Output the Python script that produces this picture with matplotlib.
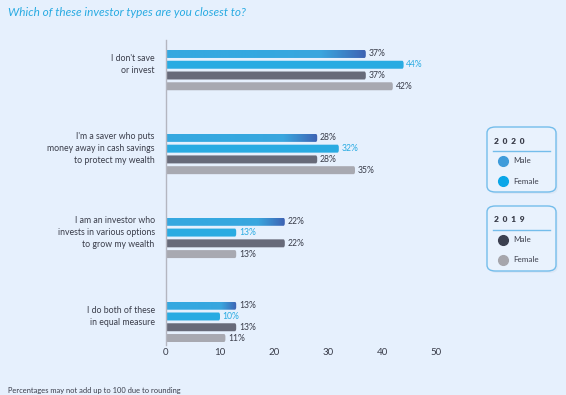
import matplotlib
matplotlib.use("Agg")
import matplotlib.pyplot as plt
import numpy as np
from matplotlib.patches import FancyBboxPatch
from matplotlib.colors import LinearSegmentedColormap

categories = ["I don't save\nor invest",
              "I'm a saver who puts\nmoney away in cash savings\nto protect my wealth",
              "I am an investor who\ninvests in various options\nto grow my wealth",
              "I do both of these\nin equal measure"]
male_2020 = [37, 28, 22, 13]
female_2020 = [44, 32, 13, 10]
male_2019 = [37, 28, 22, 13]
female_2019 = [42, 35, 13, 11]
xticks = [0, 10, 20, 30, 40, 50]

BG = "#E6F0FD"
C_F20 = "#29ABE2"
C_M19 = "#676A79"
C_F19 = "#A8A9B1"
TXT = "#3A3D4A"

plt.rcParams['font.family'] = ['Lato', 'DejaVu Sans']

fig = plt.figure(figsize=(5.66, 3.95), dpi=100, facecolor=BG)
ax = fig.add_axes([166/566, 1-345/395, 270/566, 305/395], facecolor=BG)

gap = 7.8
offsets = [-1.5, -0.5, 0.5, 1.5]
h = 0.74
grad = LinearSegmentedColormap.from_list("g", ["#35A8E0", "#3AA6DE", "#3E62B3"])

series = [(male_2020, None, TXT), (female_2020, C_F20, C_F20),
          (male_2019, C_M19, TXT), (female_2019, C_F19, TXT)]

for i in range(len(categories)):
    for j, (vals, col, tcol) in enumerate(series):
        v = vals[i]
        y = i*gap + offsets[j]
        patch = FancyBboxPatch((0, y - h/2), v, h,
                               boxstyle="round,pad=0,rounding_size=0.25",
                               facecolor=col if col else "none", edgecolor="none")
        ax.add_patch(patch)
        if col is None:
            g = np.linspace(0, 1, 256).reshape(1, -1)
            g = np.clip((g - 0.45) / 0.55, 0, 1) ** 1.3
            im = ax.imshow(g, cmap=grad, aspect='auto',
                           extent=(0, v, y + h/2, y - h/2), interpolation='bilinear', zorder=2)
            im.set_clip_path(patch)
        ax.text(v + 0.5, y, f"{v}%", va='center', ha='left', fontsize=6.2, color=tcol)
    ax.text(-2.1, i*gap - 0.5, categories[i], ha='right', va='center', fontsize=6.3,
            color=TXT, linespacing=1.4)

ax.set_xlim(0, 50)
ax.set_ylim(3*gap + 2.15, -2.8)
ax.set_xticks(xticks)
ax.set_xticklabels([str(t) for t in xticks], fontsize=7, color=TXT)
ax.tick_params(axis='x', length=0, pad=2)
ax.set_yticks([])
for s in ['top', 'right', 'bottom']:
    ax.spines[s].set_visible(False)
ax.spines['left'].set_color("#B4B6C0")
ax.spines['left'].set_linewidth(1)

fig.text(8/566, 1-13/395, "Which of these investor types are you closest to?",
         fontsize=8.5, style='italic', color=C_F20, va='center', ha='left')
fig.text(8/566, 1-390/395, "Percentages may not add up to 100 due to rounding",
         fontsize=5.4, color=TXT, va='center', ha='left')

def legend_box(top, year, entries):
    x0, x1 = 487, 556
    bottom = top + 65
    W, H = 566, 395
    shadow = FancyBboxPatch((x0/W + 0.003, 1-(bottom+2)/H), (x1-x0)/W, (bottom-top)/H,
                            boxstyle="round,pad=0,rounding_size=0.015",
                            transform=fig.transFigure, facecolor="#D6E2F2",
                            edgecolor="none", alpha=0.6)
    fig.patches.append(shadow)
    box = FancyBboxPatch((x0/W, 1-bottom/H), (x1-x0)/W, (bottom-top)/H,
                         boxstyle="round,pad=0,rounding_size=0.015",
                         transform=fig.transFigure, facecolor="#E9F2FD",
                         edgecolor="#74BDEB", linewidth=1.0)
    fig.patches.append(box)
    fig.text(494/W, 1-(top+14)/H, year, fontsize=6.0, fontweight='heavy',
             color="#3A3D4A", va='center', ha='left')
    fig.lines.append(plt.Line2D([493/W, 550/W], [1-(top+24)/H]*2,
                                transform=fig.transFigure, color="#74BDEB", lw=1))
    for k, (lab, c) in enumerate(entries):
        yy = 1-(top+34+20*k)/H
        fig.lines.append(plt.Line2D([503/W], [yy], marker='o', markersize=7,
                                    color=c, transform=fig.transFigure, lw=0))
        fig.text(513/W, yy, lab, fontsize=5.8, color=TXT, va='center', ha='left')

legend_box(127, "2  0  2  0", [("Male", "#3F9BDA"), ("Female", "#0AA6E8")])
legend_box(206, "2  0  1  9", [("Male", "#3B4050"), ("Female", "#A6A6AC")])

fig.savefig("out.png", dpi=100, facecolor=BG)
